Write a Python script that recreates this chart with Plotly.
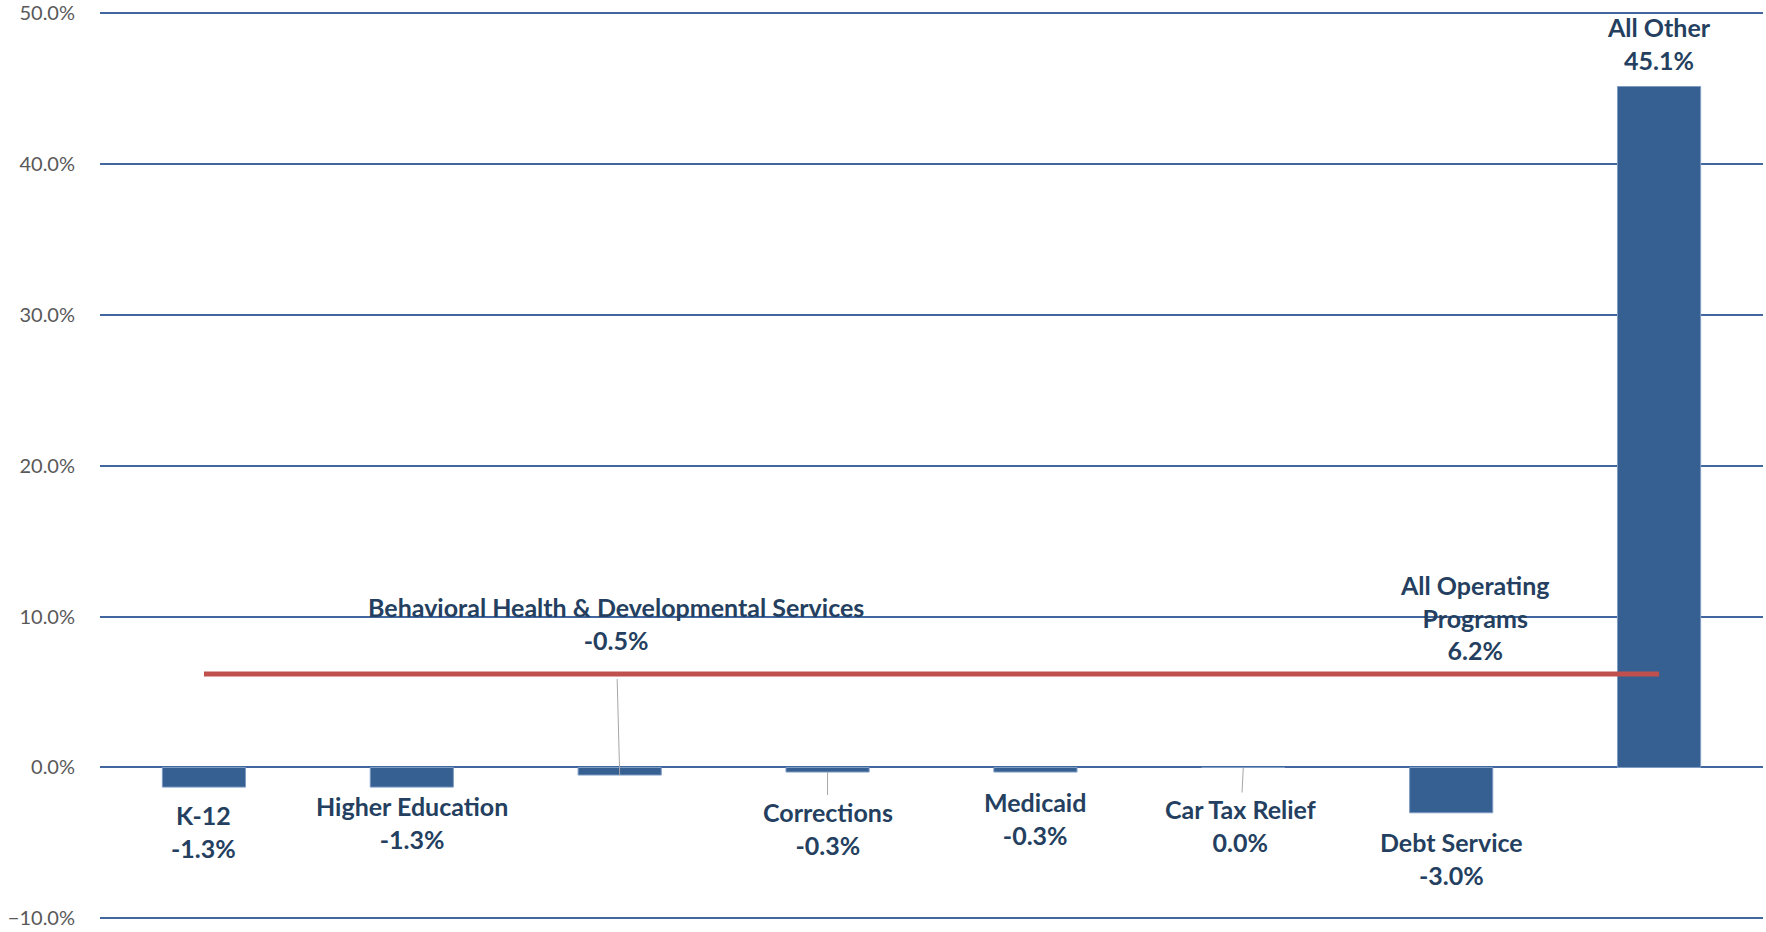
import plotly.graph_objects as go

# programs and their growth (%)
programs = ['K-12', 'Higher Education', 'Behavioral Health & Developmental Services',
            'Corrections', 'Medicaid', 'Car Tax Relief', 'Debt Service', 'All Other']
growth = [-1.3, -1.3, -0.5, -0.3, -0.3, 0.0, -3.0, 45.1]

# all operating programs average, drawn across every category
all_ops_name = 'All Operating Programs'
all_ops = [6.2, 6.2, 6.2, 6.2, 6.2, 6.2, 6.2, 6.2]

label_names = ['K-12', 'Higher Education', 'Behavioral Health & Developmental Services',
               'Corrections', 'Medicaid', 'Car Tax Relief', 'Debt Service', 'All Other']

NAVY = '#243F60'
FONT = 'Lato'
LBL = 25

fig = go.Figure()
fig.add_trace(go.Bar(x=programs, y=growth,
                     marker_color='#376092',
                     marker_line_color='#7F9CC4', marker_line_width=1,
                     hoverinfo='skip'))
fig.add_trace(go.Scatter(x=programs, y=all_ops, mode='lines',
                         line=dict(color='#C0504D', width=5),
                         hoverinfo='skip'))

# label placement in pixels from bar end: (x offset, y offset (up +), leader line?)
placement = {
    'K-12': (0, -44, False),
    'Higher Education': (0, -35, False),
    'Behavioral Health & Developmental Services': (-4, 152, True),
    'Corrections': (0, -56, True),
    'Medicaid': (0, -46, False),
    'Car Tax Relief': (-3, -58, True),
    'Debt Service': (0, -46, False),
    'All Other': (0, 43, False),
}

for name, cat, val in zip(label_names, programs, growth):
    dx, dy, leader = placement[cat]
    txt = '<b>%s<br>%.1f%%</b>' % (name, val)
    if leader:
        fig.add_annotation(x=cat, y=val, text=txt, showarrow=True,
                           ax=dx, ay=-dy,
                           arrowhead=0, arrowwidth=1, arrowcolor='#A6A6A6',
                           borderpad=24 if dy > 0 else 1,
                           font=dict(family=FONT, size=LBL, color=NAVY))
    else:
        fig.add_annotation(x=cat, y=val, text=txt, showarrow=False,
                           xshift=dx, yshift=dy,
                           font=dict(family=FONT, size=LBL, color=NAVY))

fig.add_annotation(x=programs[6], y=all_ops[6],
                   text='<b>All Operating<br>Programs<br>%.1f%%</b>' % all_ops[6],
                   showarrow=False, xshift=23, yshift=56,
                   font=dict(family=FONT, size=LBL, color=NAVY))

fig.update_layout(
    width=1766, height=932,
    margin=dict(l=100, r=3, t=11, b=12),
    plot_bgcolor='white', paper_bgcolor='white',
    showlegend=False, bargap=0.6,
    font=dict(family=FONT),
)
fig.update_xaxes(showticklabels=False, showgrid=False, showline=False, zeroline=False,
                 automargin=False)
fig.update_yaxes(range=[-10.1, 50.1], tickmode='linear', tick0=0, dtick=10,
                 tickformat='.1f', ticksuffix='%', ticklabeloverflow='allow',
                 showgrid=True, gridcolor='#41679E', gridwidth=1.5,
                 zeroline=True, zerolinecolor='#41679E', zerolinewidth=1.5,
                 ticklabelstandoff=24, automargin=False,
                 tickfont=dict(family=FONT, size=20, color='#595959'))

# drop the default body margin so the figure fills the window exactly
fig.write_html('out.html', config={'displayModeBar': False},
               post_script="document.body.style.margin='0';")
